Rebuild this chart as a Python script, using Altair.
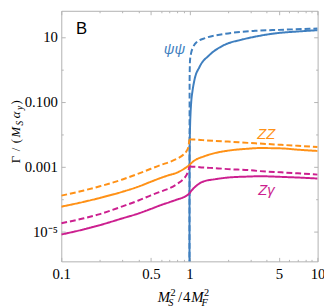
import math
import altair as alt
import pandas as pd

# ---------------- readings from the picture ----------------
# x = M_S^2 / 4 M_F^2 ; y values below are log10 of Gamma/(M_S alpha_y)
pre_x = [0.1, 0.15, 0.2, 0.3, 0.4, 0.5, 0.6, 0.7, 0.8, 0.9, 0.95, 0.98, 1.0]
post_x = [1.0, 1.05, 1.12, 1.27, 1.6, 2.0, 2.86, 3.5, 5.2, 7.0, 10.0]

zz_solid_pre = [-4.24, -4.09, -3.97, -3.78, -3.62, -3.47, -3.35, -3.26, -3.19, -3.08, -3.02, -2.98, -2.96]
zz_solid_post = [-2.96, -2.87, -2.79, -2.70, -2.58, -2.51, -2.45, -2.43, -2.44, -2.48, -2.52]
zz_dash_pre = [-3.90, -3.74, -3.61, -3.40, -3.22, -3.07, -2.95, -2.86, -2.76, -2.63, -2.52, -2.40, -2.16]
zz_dash_post = [-2.16, -2.165, -2.17, -2.185, -2.21, -2.23, -2.27, -2.29, -2.33, -2.36, -2.40]

zg_solid_pre = [-5.10, -4.94, -4.81, -4.60, -4.45, -4.31, -4.19, -4.10, -4.02, -3.95, -3.90, -3.86, -3.83]
zg_solid_post = [-3.83, -3.72, -3.61, -3.47, -3.39, -3.34, -3.31, -3.30, -3.32, -3.34, -3.37]
zg_dash_pre = [-4.75, -4.60, -4.47, -4.23, -4.05, -3.89, -3.77, -3.67, -3.54, -3.38, -3.26, -3.13, -3.00]
zg_dash_post = [-3.00, -3.005, -3.01, -3.03, -3.05, -3.08, -3.11, -3.14, -3.18, -3.21, -3.25]

psi_solid_x = [1.0, 1.002, 1.006, 1.012, 1.02, 1.035, 1.055, 1.095, 1.2, 1.43, 1.84, 2.57, 3.25, 4.85, 7.0, 10.0]
psi_solid = [-8.0, -3.0, -2.2, -1.7, -1.35, -0.95, -0.68, -0.32, 0.08, 0.44, 0.74, 0.92, 1.01, 1.12, 1.17, 1.21]
psi_dash_x = [1.0, 1.003, 1.01, 1.03, 1.067, 1.13, 1.34, 1.84, 3.25, 5.0, 10.0]
psi_dash = [-8.0, -0.3, 0.27, 0.50, 0.68, 0.83, 0.97, 1.09, 1.19, 1.22, 1.26]

series_names = ["ψψ", "ZZ", "Zγ"]
series_colors = ["#3f7fbf", "#ff9116", "#cc1f8f"]

x_major = [0.1, 0.5, 1, 5, 10]
x_major_labels = ["0.1", "0.5", "1", "5", "10"]
x_minor = [0.2, 0.3, 0.4, 0.6, 0.7, 0.8, 0.9, 2, 3, 4, 6, 7, 8, 9]
y_major = [1e-5, 1e-3, 0.1, 10]
y_major_labels = ["10⁻⁵", "0.001", "0.100", "10"]
y_minor = [1e-6, 1e-4, 1e-2, 1]

# curve labels (data coordinates)
label_text = ["B", "ψψ", "ZZ", "Zγ"]
label_x = [0.130, 0.764, 3.98, 3.98]
label_y = [12.3, 4.24, 7.26e-3, 1.32e-4]

# ---------------- build table ----------------
rows = []


def add(name, style, seg, xs, logs):
    for xv, lv in zip(xs, logs):
        rows.append(dict(x=xv, y=10 ** lv, series=name, style=style,
                         seg=f"{name}-{style}-{seg}"))


add("ψψ", "solid", "post", psi_solid_x, psi_solid)
add("ψψ", "dashed", "post", psi_dash_x, psi_dash)
add("ZZ", "solid", "pre", pre_x, zz_solid_pre)
add("ZZ", "solid", "post", post_x, zz_solid_post)
add("ZZ", "dashed", "pre", pre_x, zz_dash_pre)
add("ZZ", "dashed", "post", post_x, zz_dash_post)
add("Zγ", "solid", "pre", pre_x, zg_solid_pre)
add("Zγ", "solid", "post", post_x, zg_solid_post)
add("Zγ", "dashed", "pre", pre_x, zg_dash_pre)
add("Zγ", "dashed", "post", post_x, zg_dash_post)
df = pd.DataFrame(rows)

W, H = 261.2, 255.3
xscale = alt.Scale(type="log", domain=[0.1, 10], nice=False)
yscale = alt.Scale(type="log", domain=[1.18e-6, 64.4], nice=False)

TICK = "#b4b4b4"
SERIF = "Liberation Serif"


def label_expr(values, labels):
    parts = [f"abs(log(datum.value)/LN10 - ({math.log10(v):.4f})) < 0.01 ? '{l}'"
             for v, l in zip(values, labels)]
    return " : ".join(parts) + " : ''"


def ax(orient, values, size, labels=False, expr=None, pad=4):
    kw = dict(orient=orient, values=values, tickSize=size, offset=-size,
              domain=False, grid=False, title=None, labels=labels,
              tickColor=TICK, tickWidth=1)
    if labels:
        kw.update(labelExpr=expr, labelFont=SERIF, labelFontSize=15,
                  labelColor="black", labelPadding=pad, labelOverlap=False,
                  labelFlush=False, labelBound=False)
    return alt.Axis(**kw)


base = alt.Chart(df)
layers = []
for xo, yo, size, xv, yv in [("bottom", "left", 2, x_minor, y_minor),
                             ("top", "right", 4, x_major, y_major),
                             ("top", "right", 2, x_minor, y_minor)]:
    layers.append(base.mark_point(opacity=0).encode(
        x=alt.X("x:Q", scale=xscale, axis=ax(xo, xv, size)),
        y=alt.Y("y:Q", scale=yscale, axis=ax(yo, yv, size))))

lines = base.mark_line(clip=True, strokeWidth=2, interpolate="monotone").encode(
    x=alt.X("x:Q", scale=xscale,
            axis=ax("bottom", x_major, 4, True, label_expr(x_major, x_major_labels), 5)),
    y=alt.Y("y:Q", scale=yscale,
            axis=ax("left", y_major, 4, True, label_expr(y_major, y_major_labels), 4)),
    color=alt.Color("series:N", scale=alt.Scale(domain=series_names, range=series_colors), legend=None),
    strokeDash=alt.StrokeDash("style:N", scale=alt.Scale(domain=["solid", "dashed"], range=[[1, 0], [6, 3]]), legend=None),
    detail="seg:N",
)
layers.append(lines)

# curve labels
lab_style = [
    dict(font="Liberation Sans", fontSize=17, color="black", align="left", baseline="alphabetic"),
    dict(font="Liberation Sans", fontSize=15, fontStyle="italic", color=series_colors[0], align="center", baseline="middle"),
    dict(font="Liberation Sans", fontSize=15, fontStyle="italic", color=series_colors[1], align="center", baseline="alphabetic"),
    dict(font="Liberation Sans", fontSize=15, fontStyle="italic", color=series_colors[2], align="center", baseline="alphabetic"),
]
for t, xv, yv, st in zip(label_text, label_x, label_y, lab_style):
    d = pd.DataFrame({"x": [xv], "y": [yv]})
    layers.append(alt.Chart(d).mark_text(text=t, **st).encode(
        x=alt.X("x:Q", scale=xscale, axis=None),
        y=alt.Y("y:Q", scale=yscale, axis=None)))

# axis titles with sub/superscripts
dummy = pd.DataFrame({"d": [0]})


def glyph(t, px, py, size, italic, angle=0):
    return alt.Chart(dummy).mark_text(
        text=t, font=SERIF, fontSize=size, fontStyle="italic" if italic else "normal",
        align="left", baseline="alphabetic", angle=angle, color="black"
    ).encode(x=alt.value(px), y=alt.value(py))


# x title: M_S^2/4M_F^2   (positions relative to plot origin)
xt = [("M", 98.2, 297, 15, True), ("S", 108.9, 300.5, 10.5, True), ("2", 111.4, 291, 10.5, False),
      ("/", 119.0, 297, 15, False), ("4", 124.0, 297, 15, False), ("M", 132.5, 297, 15, True),
      ("F", 143.0, 300.5, 10.5, True), ("2", 145.5, 291, 10.5, False)]
for t, px, py, s, it in xt:
    layers.append(glyph(t, px, py, s, it))

# y title: Γ/(M_S α_y) rotated
YB, YS = -42.5, -39.5
yt = [("Γ", YB, 155.3, 13, False), ("/", YB, 143, 13, False), ("(", YB, 135, 13, False),
      ("M", YB, 129, 13, True), ("S", YS, 117.0, 9.5, True), ("α", YB, 109.5, 13, True),
      ("y", YS, 101.0, 9.5, True), (")", YB, 95.5, 13, False)]
for t, px, py, s, it in yt:
    layers.append(glyph(t, px, py, s, it, angle=270))

chart = alt.layer(*layers).resolve_axis(x="independent", y="independent").properties(
    width=W, height=H, autosize="none",
    padding={"left": 54.3, "top": 0, "right": 6.5, "bottom": 44.7},
).configure_view(stroke="#b0b0b0", strokeWidth=1)

chart.save("out.html", embed_options={"renderer": "svg", "actions": False})
